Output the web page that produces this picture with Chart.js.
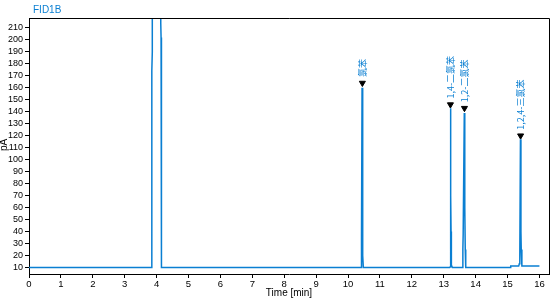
<!DOCTYPE html>
<html>
<head>
<meta charset="utf-8">
<script src="https://cdn.jsdelivr.net/npm/chart.js@4/dist/chart.umd.min.js"></script>
<style>
html,body{margin:0;padding:0;background:#fff;}
#wrap{width:554px;height:300px;position:relative;}
</style>
</head>
<body>
<div id="wrap"><canvas id="c" width="554" height="300"></canvas></div>
<script>
// ---- data ----
const timeMin = [0, 3.84, 3.84, 3.855, 3.855, 3.865, 3.865, 4.13, 4.13, 4.14, 4.14, 4.15, 4.15, 4.16, 4.16,
  10.41, 10.42, 10.425, 10.44, 10.455, 10.46, 10.465, 10.48,
  13.19, 13.205, 13.21, 13.225, 13.23, 13.24, 13.27,
  13.59, 13.6, 13.61, 13.645, 13.66, 13.675, 13.69,
  15.1, 15.1, 15.35, 15.37, 15.385, 15.405, 15.42, 15.43, 15.45, 16.0];
const signalPA = [10, 10, 60, 84, 174, 190, 1200, 1200, 214, 202, 150, 135, 42, 29, 10,
  10, 28, 35, 160, 58, 40, 20, 10,
  10, 10.5, 143, 70, 40, 12, 10,
  10, 25, 38, 139, 60, 25, 10,
  10, 11.1, 11.1, 13, 20, 117, 40, 25, 11.1, 11.1];
const peakTimes = [10.45, 13.21, 13.65, 15.41];
const peakMarkerPA = [164, 146, 143, 120];
const peakNames = ["氯苯", "1,4-二氯苯", "1,2-二氯苯", "1,2,4-三氯苯"];
const xTickValues = [0,1,2,3,4,5,6,7,8,9,10,11,12,13,14,15,16];
const yTickValues = [10,20,30,40,50,60,70,80,90,100,110,120,130,140,150,160,170,180,190,200,210];
const seriesName = "FID1B";
const xTitle = "Time [min]";
const yTitle = "pA";

const blue = '#0a7fd2';
const lineData = timeMin.map((t, i) => ({x: t, y: signalPA[i]}));
const markerData = peakTimes.map((t, i) => ({x: t, y: peakMarkerPA[i]}));

const decor = {
  id: 'decor',
  afterDatasetsDraw(chart) {
    const {ctx, chartArea: a, scales} = chart;
    ctx.save();
    ctx.strokeStyle = '#000';
    ctx.lineWidth = 1;
    ctx.beginPath();
    ctx.moveTo(a.left, a.top + 0.5);
    ctx.lineTo(a.right + 0.5, a.top + 0.5);
    ctx.lineTo(a.right + 0.5, a.bottom);
    ctx.stroke();
    // peak labels
    ctx.fillStyle = blue;
    ctx.font = '9px "Noto Sans CJK SC", "Liberation Sans", sans-serif';
    ctx.textBaseline = 'middle';
    ctx.textAlign = 'left';
    peakTimes.forEach((t, i) => {
      const px = scales.x.getPixelForValue(t);
      const py = scales.y.getPixelForValue(peakMarkerPA[i]) - 6;
      ctx.save();
      ctx.translate(px, py);
      ctx.rotate(-Math.PI / 2);
      ctx.fillText(peakNames[i], 0, 0);
      ctx.restore();
    });
    // titles
    ctx.font = '10px "Liberation Sans", Arial, sans-serif';
    ctx.fillStyle = blue;
    ctx.textAlign = 'left';
    ctx.fillText(seriesName, 33, 10);
    ctx.fillStyle = '#000';
    ctx.textAlign = 'center';
    ctx.fillText(xTitle, 289, 293);
    ctx.save();
    ctx.translate(4, 145);
    ctx.rotate(-Math.PI / 2);
    ctx.fillText(yTitle, 0, 0);
    ctx.restore();
    ctx.restore();
  }
};

new Chart(document.getElementById('c'), {
  type: 'line',
  data: {
    datasets: [
      {data: lineData, borderColor: blue, borderWidth: 1.5, pointRadius: 0, fill: false, tension: 0},
      {data: markerData, showLine: false, pointStyle: 'triangle', rotation: 180, pointRadius: 3.5,
       pointBackgroundColor: '#000', pointBorderColor: '#000', clip: false}
    ]
  },
  options: {
    responsive: false,
    animation: false,
    events: [],
    layout: {padding: {left: 0, right: 5, top: 18, bottom: 0}},
    plugins: {legend: {display: false}, tooltip: {enabled: false}},
    scales: {
      x: {
        type: 'linear', min: 0, max: 16.3,
        afterBuildTicks: s => { s.ticks = xTickValues.map(v => ({value: v})); },
        afterFit: s => { s.height = 26; },
        border: {color: '#000', width: 1},
        grid: {drawOnChartArea: false, tickLength: 4, color: '#000'},
        ticks: {color: '#000', padding: 1, maxRotation: 0, autoSkip: false,
                font: {family: '"Liberation Sans", Arial, sans-serif', size: 9.5}}
      },
      y: {
        type: 'linear', min: 4.5, max: 218.3,
        afterBuildTicks: s => { s.ticks = yTickValues.map(v => ({value: v})); },
        afterFit: s => { s.width = 29; },
        border: {color: '#000', width: 1},
        grid: {drawOnChartArea: false, tickLength: 4, color: '#000'},
        ticks: {color: '#000', padding: 2, autoSkip: false,
                font: {family: '"Liberation Sans", Arial, sans-serif', size: 9}}
      }
    }
  },
  plugins: [decor]
});
</script>
</body>
</html>
